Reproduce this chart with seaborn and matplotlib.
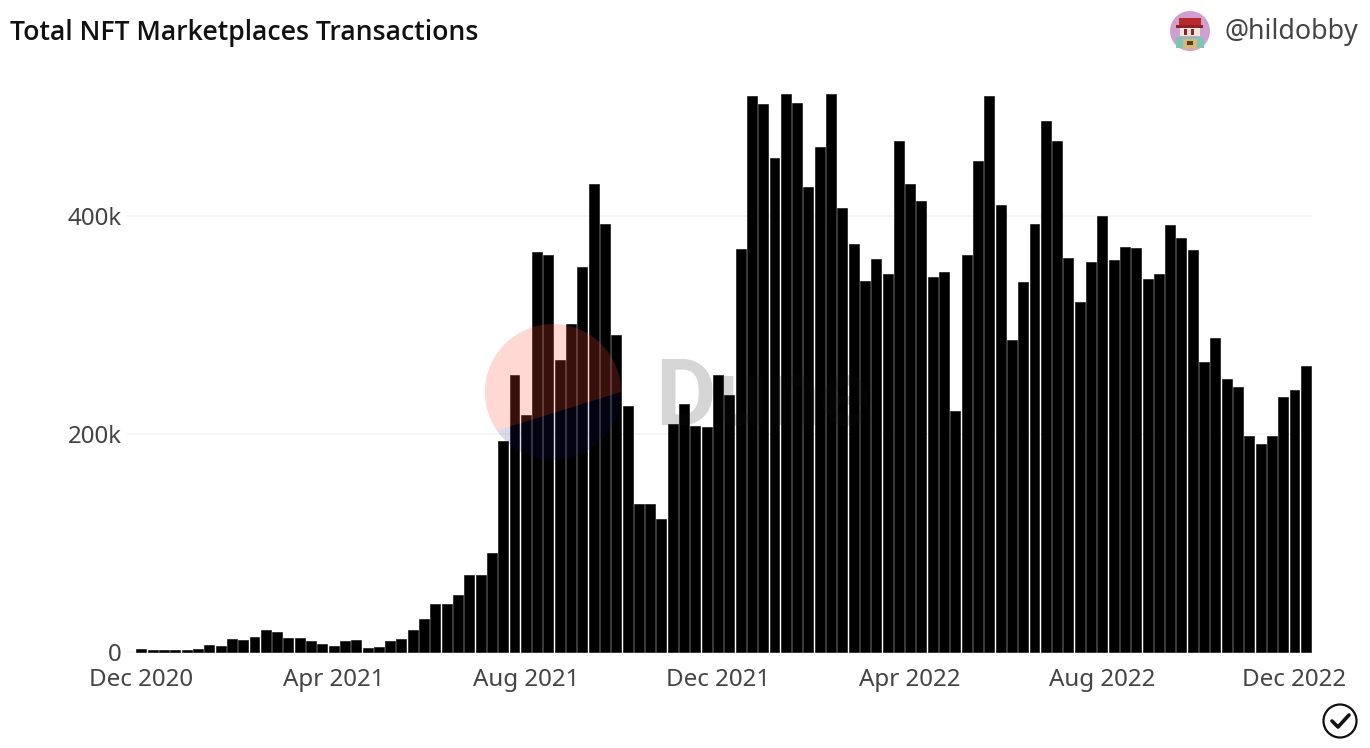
import matplotlib
matplotlib.use("Agg")
import matplotlib.pyplot as plt
import numpy as np
import pandas as pd
import seaborn as sns
from matplotlib.patches import Circle, Polygon, Rectangle

sns.set_theme(style="white")
plt.rcParams["font.family"] = ["Noto Sans", "DejaVu Sans"]

# tjedne transakcije, u tisucama, ocitano sa slike
TX = [
    2.4, 2.1, 1.5, 1.5, 2, 3, 6.4, 5.5, 11.9, 11, 13.8, 20.5, 18, 13, 12.8, 10.4,
    7.6, 5.8, 10.4, 11.3, 4, 4.9, 9.8, 12.2, 20.5, 30, 44.3, 43.7, 52.3, 71, 71, 90.8,
    193.6, 254, 217, 366.5, 364, 268, 301, 353, 429, 393, 291, 226, 136, 136, 122, 209,
    227.5, 207, 206, 254, 236, 370, 510, 503, 453, 512, 504, 426.5, 463, 512, 407, 374,
    340, 360.5, 347, 469, 429, 414, 344, 349, 221, 364, 450, 510, 410, 286, 339, 393,
    487, 469, 361, 321, 358, 400, 360, 371.5, 370.5, 342, 347, 392, 380, 369, 266, 288,
    250, 243, 198, 191, 198, 234, 240, 262,
]

df = pd.DataFrame({
    "week": pd.date_range("2020-12-21", periods=len(TX), freq="7D"),
    "transactions": np.array(TX) * 1000,
})

W, H = 1370, 748
fig = plt.figure(figsize=(W / 100, H / 100), dpi=100, facecolor="white")
ax = fig.add_axes([127 / W, (H - 653) / H, (1312 - 127) / W, (653 - 90) / H])

sns.barplot(data=df, x="week", y="transactions", color="black", saturation=1,
            width=0.88, edgecolor="black", linewidth=0.4, ax=ax, zorder=2)

ax.set_xlim(-1.28, 103.55)
ax.set_ylim(-900, 515500)
ax.set_xlabel("")
ax.set_ylabel("")
sns.despine(ax=ax, left=True, bottom=True)

ax.set_yticks([0, 200000, 400000], ["0", "200k", "400k"])
pozicije = np.arange(0, len(df), 17)
ax.set_xticks(pozicije, df["week"].iloc[pozicije].dt.strftime("%b %Y"))
ax.tick_params(axis="both", length=0, labelsize=17.4, labelcolor="#444444")
ax.tick_params(axis="x", pad=11)
ax.tick_params(axis="y", pad=4)
ax.yaxis.grid(True, color="#f3f3f3", lw=1.2, zorder=0)
ax.set_axisbelow(True)

# naslov i autor
fig.text(10 / W, 1 - 33 / H, "Total NFT Marketplaces Transactions", fontsize=19.2,
         family=["Open Sans", "DejaVu Sans"], fontweight="semibold", color="#111111",
         va="center")
fig.text(1358 / W, 1 - 32 / H, "@hildobby", fontsize=19.3, color="#444444",
         va="center", ha="right")

# vodeni znak (pikseli, y od dna)
cx, cy, r = 553, H - 392, 68
def odsjecak(a1, a2):
    kut = np.radians(np.linspace(a1, a2, 120))
    return np.column_stack([cx + r * np.cos(kut), cy + r * np.sin(kut)])

fig.add_artist(Polygon(odsjecak(0, 214.6), closed=True, transform=None, fc="#FF4A37",
                       ec="none", alpha=0.22, zorder=5))
fig.add_artist(Polygon(odsjecak(214.6, 360), closed=True, transform=None, fc="#1E1870",
                       ec="none", alpha=0.16, zorder=5))
fig.text(655 / W, 1 - 425 / H, "Dune", fontsize=67, family=["Roboto", "DejaVu Sans"],
         fontweight="bold", color="#1a1a1a", alpha=0.18, zorder=5, va="baseline")

# avatar
fig.add_artist(Circle((1190, H - 31), 20, transform=None, fc="#cf9fcf", ec="none", zorder=3))
AVATAR = [
    (1179, 18, 22, 7, "#b8282e"), (1176, 25, 27, 3, "#8e2026"),
    (1180, 28, 20, 8, "#efe6dc"), (1184, 29, 3, 6, "#a01c24"), (1191, 29, 3, 6, "#a01c24"),
    (1176, 37, 28, 11, "#7fc4b8"), (1183, 39, 14, 10, "#d8b878"),
    (1187, 41, 6, 4, "#5a3a20"),
]
for x, y, w, h, boja in AVATAR:
    fig.add_artist(Rectangle((x, H - y - h), w, h, transform=None, fc=boja, ec="none", zorder=4))

# oznaka provjere dolje desno
fig.add_artist(Circle((1340, H - 721), 16.5, transform=None, fc="none", ec="#111111", lw=1.6))
fig.add_artist(plt.Line2D([1332, 1338, 1349], [H - 721, H - 727, H - 715], transform=None,
                          color="#111111", lw=2.6, solid_capstyle="round",
                          solid_joinstyle="round"))

fig.savefig("out.png", dpi=100, facecolor="white")
